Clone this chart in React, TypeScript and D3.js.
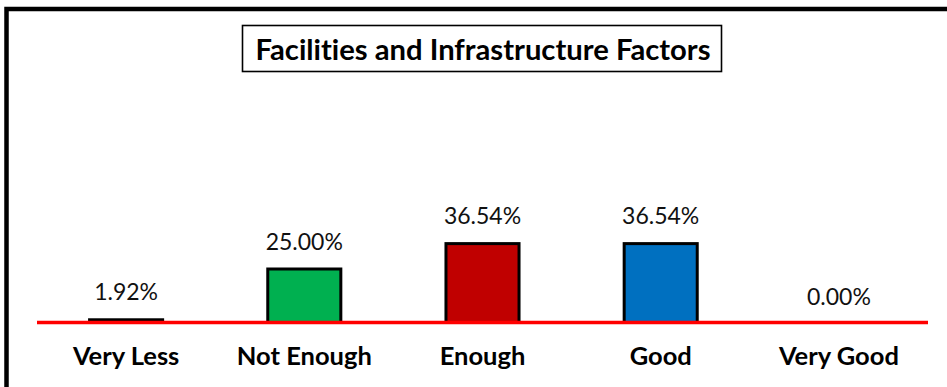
import React from "react";
import * as d3 from "d3";

const categories = ["Very Less", "Not Enough", "Enough", "Good", "Very Good"];
const values = [1.92, 25.0, 36.54, 36.54, 0.0];
const colors = ["#000000", "#00B050", "#C00000", "#0070C0", "#7F7F7F"];
const titleText = "Facilities and Infrastructure Factors";

const W = 947;
const H = 387;
const FONT = "Lato, 'Open Sans', sans-serif";

export default function App() {
  const baseline = 322.5;
  const x = d3
    .scaleBand<string>()
    .domain(categories)
    .range([37, 928])
    .paddingInner(0.59)
    .paddingOuter(0.295);
  const y = d3.scaleLinear().domain([0, 100]).range([baseline, baseline - 220]);
  const noLig = { fontVariantLigatures: "none" as const };

  return (
    <svg
      width={W}
      height={H}
      style={{ position: "absolute", left: 0, top: 0, background: "#fff" }}
    >
      <rect x={0} y={0} width={W} height={H} fill="#fff" />
      <rect x={6.5} y={9} width={980} height={420} fill="none" stroke="#000" strokeWidth={4.5} />
      <rect x={242.5} y={25.5} width={479} height={46} fill="#fff" stroke="#000" strokeWidth={1.6} />
      <text
        x={483}
        y={60}
        textAnchor="middle"
        fontFamily={FONT}
        fontWeight="bold"
        fontSize={29.2}
        fill="#000"
        style={noLig}
      >
        {titleText}
      </text>
      {categories.map((c, i) => {
        const v = values[i];
        const bx = x(c)!;
        const bw = x.bandwidth();
        const top = y(v);
        return (
          <g key={c}>
            <rect
              x={bx}
              y={top + 1.5}
              width={bw}
              height={Math.max(0, baseline - top - 1.5)}
              fill={colors[i]}
              stroke="#000"
              strokeWidth={3}
            />
            <text
              x={bx + bw / 2}
              y={top - 18}
              textAnchor="middle"
              fontFamily={FONT}
              fontSize={23}
              fill="#111"
              style={noLig}
            >
              {v.toFixed(2) + "%"}
            </text>
            <text
              x={bx + bw / 2}
              y={365}
              textAnchor="middle"
              fontFamily={FONT}
              fontWeight="bold"
              fontSize={25.5}
              fill="#000"
              style={noLig}
            >
              {c}
            </text>
          </g>
        );
      })}
      <line x1={37} x2={928} y1={baseline} y2={baseline} stroke="#FF0000" strokeWidth={3.5} />
    </svg>
  );
}
